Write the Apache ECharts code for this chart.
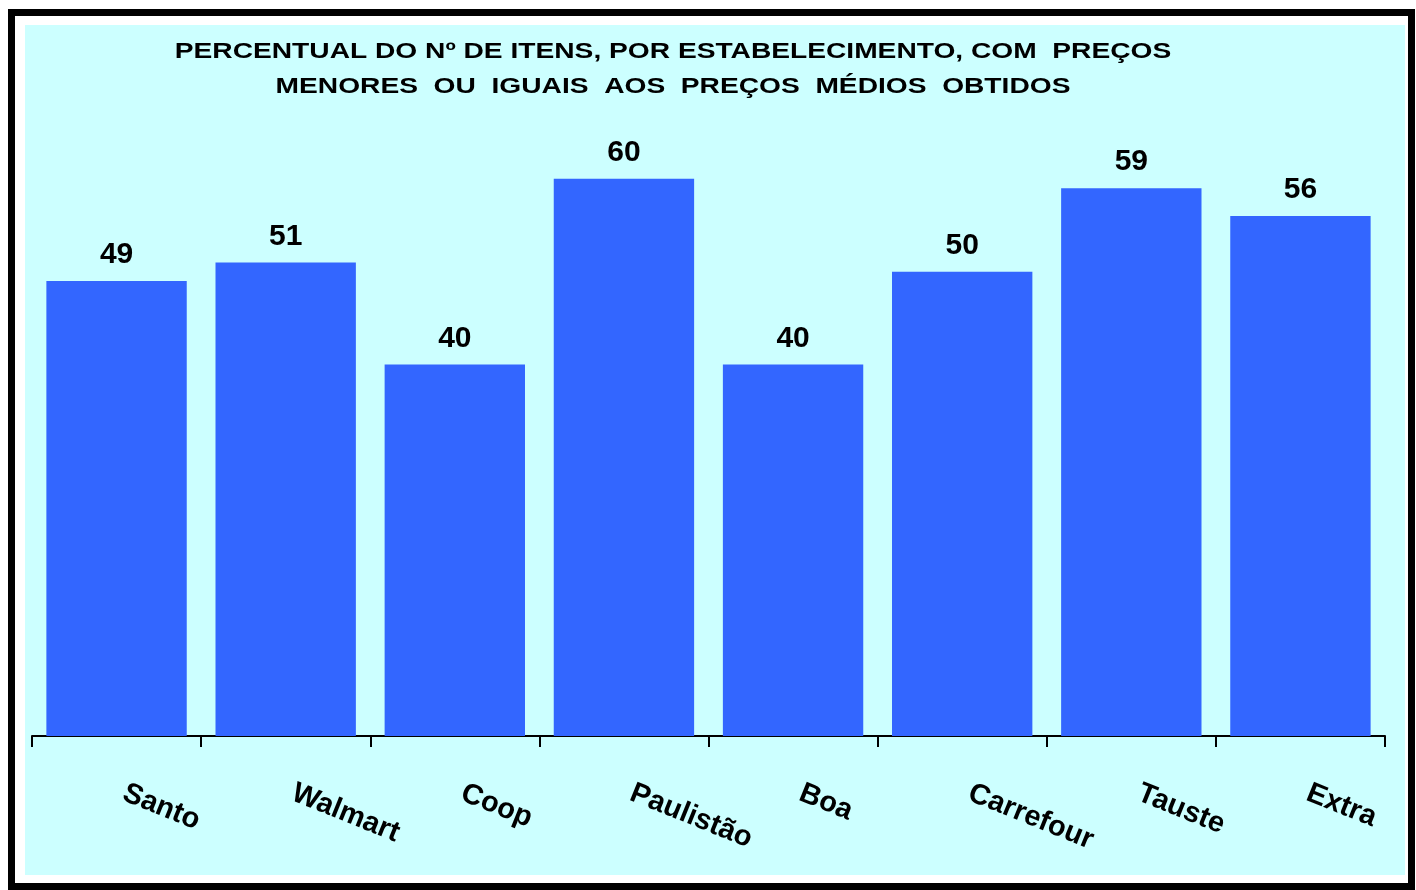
<!DOCTYPE html>
<html><head><meta charset="utf-8">
<script src="https://cdn.jsdelivr.net/npm/echarts@6/dist/echarts.min.js"></script>
<style>html,body{margin:0;padding:0;background:#fff}#c{width:1416px;height:890px}</style>
</head><body><div id="c"></div>
<script>
const titleLines = ['PERCENTUAL DO Nº DE ITENS, POR ESTABELECIMENTO, COM  PREÇOS', 'MENORES  OU  IGUAIS  AOS  PREÇOS  MÉDIOS  OBTIDOS'];
const categories = ['Santo', 'Walmart', 'Coop', 'Paulistão', 'Boa', 'Carrefour', 'Tauste', 'Extra'];
const values = [49, 51, 40, 60, 40, 50, 59, 56];

const FONT = 'Liberation Sans, Arial, sans-serif';
const chart = echarts.init(document.getElementById('c'));
chart.setOption({
  animation: false,
  backgroundColor: '#ffffff',
  graphic: [
    { type: 'rect', z: -10, shape: { x: 11.5, y: 12.5, width: 1400, height: 874 }, style: { fill: '#ffffff', stroke: '#000', lineWidth: 7 } },
    { type: 'rect', z: -9, shape: { x: 25, y: 25, width: 1380, height: 850 }, style: { fill: '#CCFFFF' } },
    { type: 'text', x: 673, y: 52, scaleX: 1.28, style: { text: titleLines[0], x: 0, y: 0, align: 'center', verticalAlign: 'middle', font: 'bold 22px ' + FONT, fill: '#000' } },
    { type: 'text', x: 673, y: 87, scaleX: 1.28, style: { text: titleLines[1], x: 0, y: 0, align: 'center', verticalAlign: 'middle', font: 'bold 22px ' + FONT, fill: '#000' } }
  ],
  grid: { left: 32, right: 31, top: 86, bottom: 154, containLabel: false },
  xAxis: {
    type: 'category', data: categories,
    axisLine: { lineStyle: { color: '#000', width: 2 } },
    axisTick: { show: true, length: 11, lineStyle: { color: '#000', width: 2 } },
    axisLabel: { rotate: -22, margin: 53, interval: 0, padding: [0, 0, 0, 8], fontFamily: FONT, fontWeight: 'bold', fontSize: 29, color: '#000' }
  },
  yAxis: { type: 'value', min: 0, max: 70, show: false, splitLine: { show: false } },
  series: [{
    type: 'bar', data: values, barCategoryGap: '17%',
    itemStyle: { color: '#3366FF' },
    label: { show: true, position: 'top', distance: 11, fontFamily: FONT, fontWeight: 'bold', fontSize: 30, color: '#000' }
  }]
});
</script></body></html>
